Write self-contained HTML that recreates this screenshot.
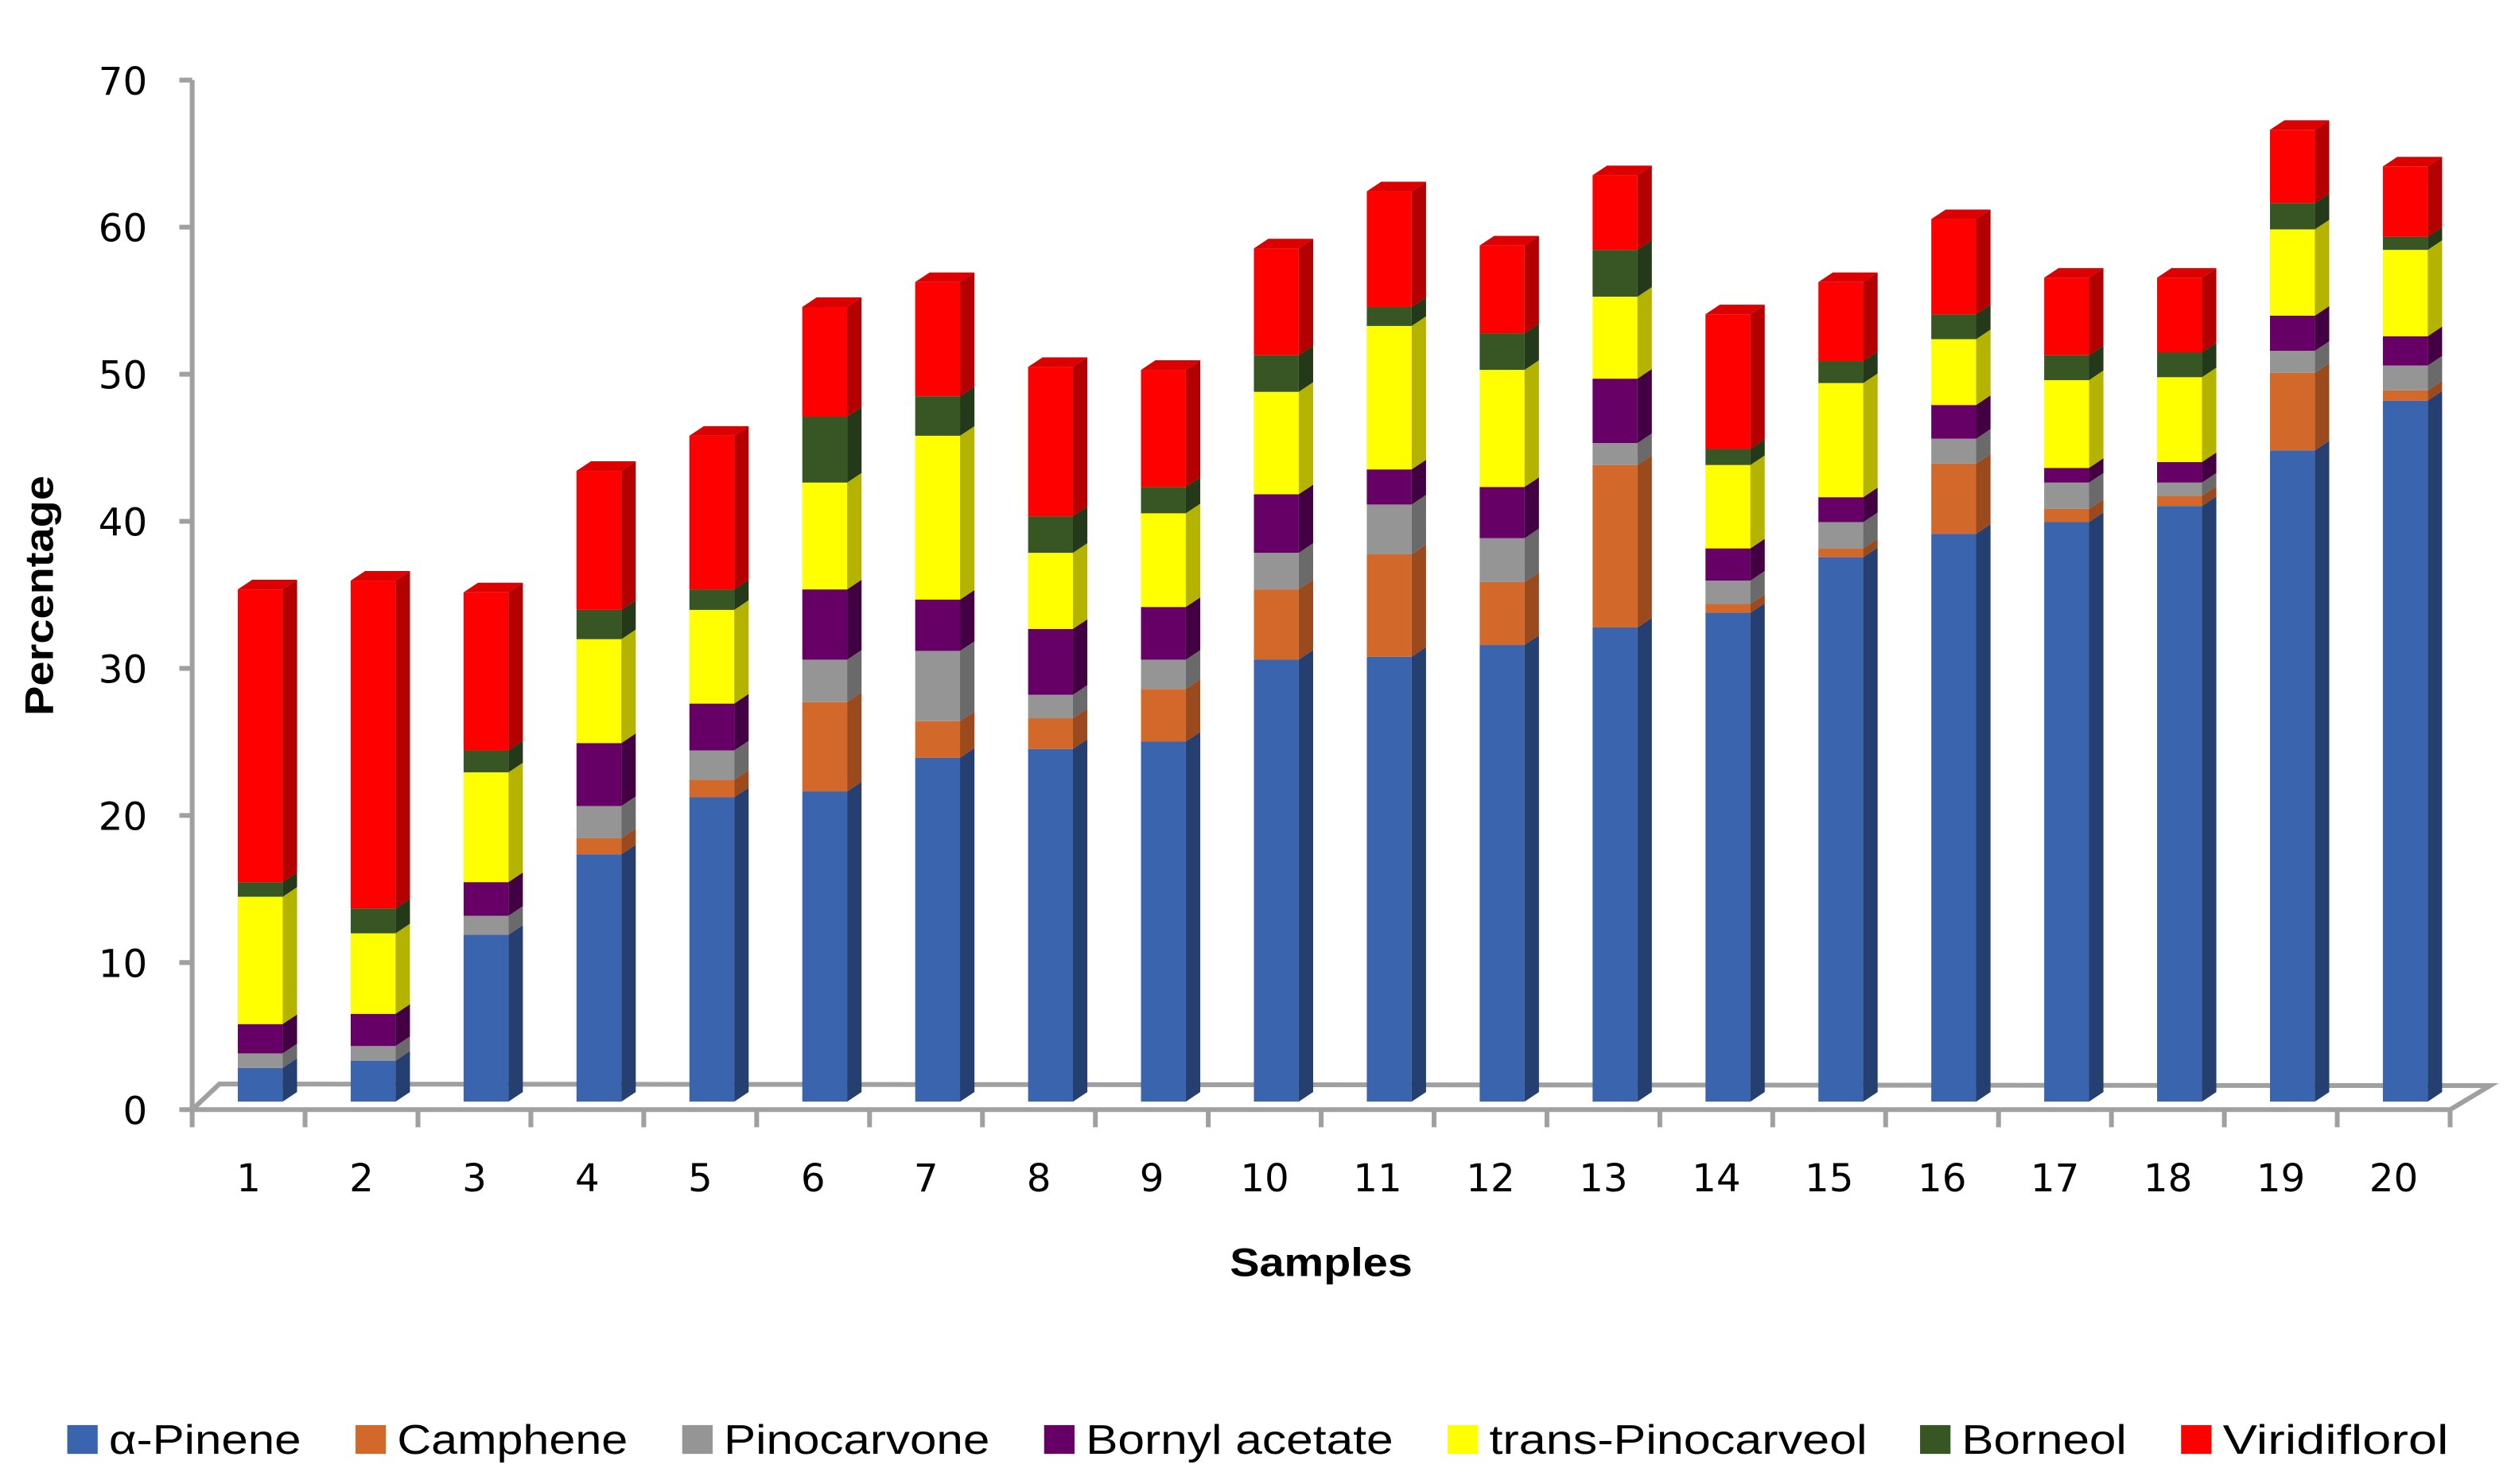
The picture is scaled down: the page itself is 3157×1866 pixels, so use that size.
<!DOCTYPE html>
<html><head><meta charset="utf-8"><style>
html,body{margin:0;padding:0;background:#fff;}
svg{display:block;}
text{font-family:"Liberation Sans",sans-serif;fill:#000;}
.tick{font-family:"DejaVu Sans","Liberation Sans",sans-serif;}
</style></head><body>
<svg id="chart" width="3157" height="1866" viewBox="0 0 1568 926.8" xmlns="http://www.w3.org/2000/svg">
<g id="axes"></g>
<g id="bars"></g>
<g id="legend"></g>
<text transform="translate(33,372) rotate(-90)" text-anchor="middle" font-weight="bold" font-size="25" textLength="150" lengthAdjust="spacingAndGlyphs">Percentage</text>
<text x="825" y="797" text-anchor="middle" font-weight="bold" font-size="25" textLength="114" lengthAdjust="spacingAndGlyphs">Samples</text>
</svg>
<script>
const categories = ['1','2','3','4','5','6','7','8','9','10','11','12','13','14','15','16','17','18','19','20'];
const seriesNames = ['α-Pinene','Camphene','Pinocarvone','Bornyl acetate','trans-Pinocarveol','Borneol','Viridiflorol'];
const aPinene = [2.3,2.8,11.4,16.9,20.8,21.2,23.5,24.1,24.6,30.2,30.4,31.2,32.4,33.4,37.2,38.8,39.6,40.7,44.5,47.9];
const camphene = [0,0,0,1.1,1.2,6.1,2.5,2.1,3.6,4.8,7.0,4.3,11.1,0.6,0.6,4.8,0.9,0.7,5.3,0.7];
const pinocarvone = [1.0,1.0,1.3,2.2,2.0,2.9,4.8,1.6,2.0,2.5,3.4,3.0,1.5,1.6,1.8,1.7,1.8,0.9,1.5,1.7];
const bornylAcetate = [2.0,2.2,2.3,4.3,3.2,4.8,3.5,4.5,3.6,4.0,2.4,3.5,4.4,2.2,1.7,2.3,1.0,1.4,2.4,2.0];
const transPinocarveol = [8.7,5.5,7.5,7.1,6.4,7.3,11.2,5.2,6.4,7.0,9.8,8.0,5.6,5.7,7.8,4.5,6.0,5.8,5.9,5.9];
const borneol = [1.0,1.7,1.5,2.0,1.4,4.5,2.7,2.5,1.8,2.5,1.3,2.5,3.2,1.1,1.5,1.7,1.7,1.7,1.8,0.9];
const viridiflorol = [20.0,22.4,10.8,9.5,10.5,7.5,7.8,10.2,8.0,7.3,7.9,6.0,5.1,9.2,5.4,6.5,5.3,5.1,5.0,4.8];
const yTicks = [0,10,20,30,40,50,60,70];

const series = [aPinene,camphene,pinocarvone,bornylAcetate,transPinocarveol,borneol,viridiflorol];
const front = ['#3A64AE','#D2692A','#959595','#660066','#FFFF00','#375623','#FF0000'];
const side  = ['#243F70','#9A4A1C','#6A6A6A','#420042','#B3B300','#24391A','#B30000'];
const topc  = ['#5A80C8','#E08A50','#B0B0B0','#800080','#FFFF66','#4A7030','#DD0000'];
const NS='http://www.w3.org/2000/svg';
const X0=120, X1=1530, Y0=688, AX0=693, YSCALE=9.14, DX=9, DY=6, BW=28;
const nC = categories.length;
const catW = (X1-X0)/nC;
function xScale(i){return X0+i*catW;}
function yScale(v){return Y0 - v*YSCALE;}
function yAxis(v){return AX0 - v*(AX0-50)/70;}
function mk(tag,attrs,parent){const e=document.createElementNS(NS,tag);for(const k in attrs)e.setAttribute(k,attrs[k]);parent.appendChild(e);return e;}

const axes=document.getElementById('axes');
const g='#A0A0A0';
const floor=mk('polyline',{points:`${X0},${AX0} ${X1},${AX0} ${X1+25},${AX0-15} ${X0+17},${AX0-16} ${X0},${AX0}`,fill:'none',stroke:g,'stroke-width':3},axes);

const yl=mk('line',{x1:X0,y1:yAxis(70),x2:X0,y2:AX0,stroke:g,'stroke-width':3},axes);

yTicks.forEach(v=>{
  const y=yAxis(v);
  const t=mk('line',{x1:X0-8,y1:y,x2:X0,y2:y,stroke:g,'stroke-width':3},axes);
  
  const l=mk('text',{x:X0-28,y:y+9,'text-anchor':'end','font-size':24,'class':'tick'},axes);
  
  
  l.textContent=v;
});
for(let i=0;i<=nC;i++){
  const x=xScale(i);
  const t=mk('line',{x1:x,y1:AX0,x2:x,y2:AX0+11,stroke:g,'stroke-width':3},axes);
  
}
categories.forEach((c,i)=>{
  const l=mk('text',{x:xScale(i)+catW/2,y:744,'text-anchor':'middle','font-size':24,'class':'tick'},axes);
  
  
  l.textContent=c;
});

const bars=document.getElementById('bars');
categories.forEach((c,i)=>{
  const bx=xScale(i)+28.5;
  const grp=mk('g',{},bars);
  
  
  let cum=0;
  let last=-1;
  series.forEach((s,k)=>{ if(s[i]>0) last=k; });
  series.forEach((s,k)=>{
    const v=s[i]; if(v<=0) return;
    const yb=yScale(cum), yt=yScale(cum+v);
    cum+=v;
    const seg=mk('g',{},grp);
    
    
    mk('rect',{x:bx,y:yt,width:BW,height:yb-yt,fill:front[k]},seg);
    mk('polygon',{points:`${bx+BW},${yb} ${bx+BW+DX},${yb-DY} ${bx+BW+DX},${yt-DY} ${bx+BW},${yt}`,fill:side[k]},seg);
    if(k===last){
      mk('polygon',{points:`${bx},${yt} ${bx+DX},${yt-DY} ${bx+BW+DX},${yt-DY} ${bx+BW},${yt}`,fill:topc[k]},seg);
    }
  });
});

const legend=document.getElementById('legend');
const legX=[42,222,426,652,904,1199,1362];
const legW=[120,144,166,192,236,103,141];
seriesNames.forEach((n,k)=>{
  const it=mk('g',{},legend);
  
  
  mk('rect',{x:legX[k],y:890,width:19,height:18,fill:front[k]},it);
  const t=mk('text',{x:legX[k]+26,y:908,'font-size':26,textLength:legW[k],lengthAdjust:'spacingAndGlyphs'},it);
  t.textContent=n;
});
</script>
</body></html>
